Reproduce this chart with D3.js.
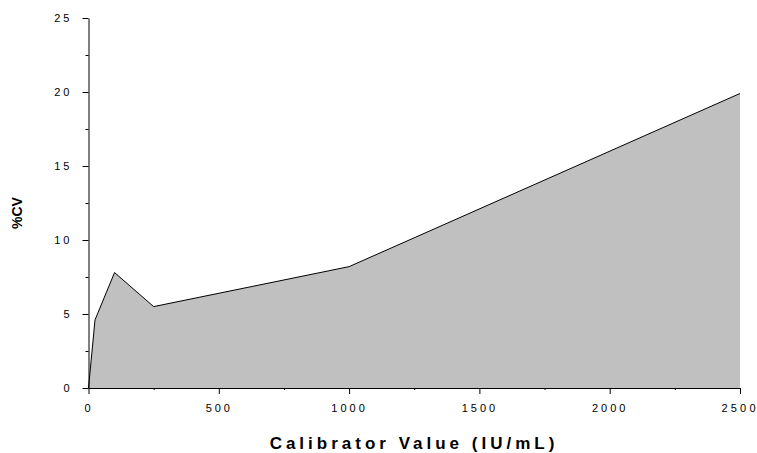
<!DOCTYPE html>
<html><head><meta charset="utf-8">
<script src="https://cdn.jsdelivr.net/npm/d3@7"></script>
<style>body{margin:0;background:#fff}svg{display:block}</style>
</head><body>
<svg id="c" width="757" height="453"></svg>
<script>
const calibrator = [0, 25, 100, 250, 1000, 2500];
const cv = [0, 4.6, 7.8, 5.5, 8.2, 19.9];
const xTicks = [0, 500, 1000, 1500, 2000, 2500];
const yTicks = [0, 5, 10, 15, 20, 25];

const svg = d3.select("#c");
const L = 88.5, R = 740, T = 18, B = 388;
const x = d3.scaleLinear().domain([0, 2500]).range([L, R]);
const y = d3.scaleLinear().domain([0, 25]).range([B, T]);
const data = calibrator.map((c, i) => ({c, v: cv[i]}));

svg.append("path").datum(data)
  .attr("d", d3.area().x(d => x(d.c)).y0(y(0)).y1(d => y(d.v)))
  .attr("fill", "#c0c0c0");
svg.append("path").datum(data)
  .attr("d", d3.line().x(d => x(d.c)).y(d => y(d.v)))
  .attr("fill", "none").attr("stroke", "#000").attr("stroke-width", 1);

const font = "Liberation Sans, Arial, sans-serif";
const fmt = d3.format("d");
// y axis
svg.append("g").attr("transform", `translate(${L},0)`)
  .call(d3.axisLeft(y).tickValues(yTicks).tickFormat(fmt).tickSize(6).tickPadding(10).tickSizeOuter(0));
svg.append("g").attr("transform", `translate(${L},0)`)
  .call(d3.axisLeft(y).tickValues(d3.range(2.5, 25, 5)).tickSize(3).tickFormat("").tickSizeOuter(0))
  .select(".domain").remove();
// x axis
const xa = svg.append("g").attr("transform", `translate(0,${B})`)
  .call(d3.axisBottom(x).tickValues(xTicks).tickFormat(fmt).tickSize(6).tickPadding(10).tickSizeOuter(0));
svg.append("g").attr("transform", `translate(0,${B})`)
  .call(d3.axisBottom(x).tickValues(d3.range(250, 2500, 500)).tickSize(2).tickFormat("").tickSizeOuter(0))
  .select(".domain").remove();
svg.selectAll(".tick text").attr("font-family", font).attr("font-size", 11).attr("fill", "#000")
  .attr("letter-spacing", 3);
// last x label: keep inside the right edge
xa.selectAll(".tick text").filter(d => d === xTicks[xTicks.length - 1])
  .attr("letter-spacing", 0).attr("text-anchor", "end").attr("x", 15)
  .attr("textLength", 34).attr("lengthAdjust", "spacing");
svg.selectAll(".tick line, .domain").attr("stroke", "#000");

svg.append("text").attr("x", 414).attr("y", 449).attr("text-anchor", "middle")
  .attr("font-family", font).attr("font-weight", "bold").attr("font-size", 17)
  .attr("letter-spacing", 4).text("Calibrator Value (IU/mL)");
svg.append("text").attr("transform", "translate(22,213) rotate(-90)").attr("text-anchor", "middle")
  .attr("font-family", font).attr("font-weight", "bold").attr("font-size", 14)
  .text("%CV");
</script>
</body></html>
